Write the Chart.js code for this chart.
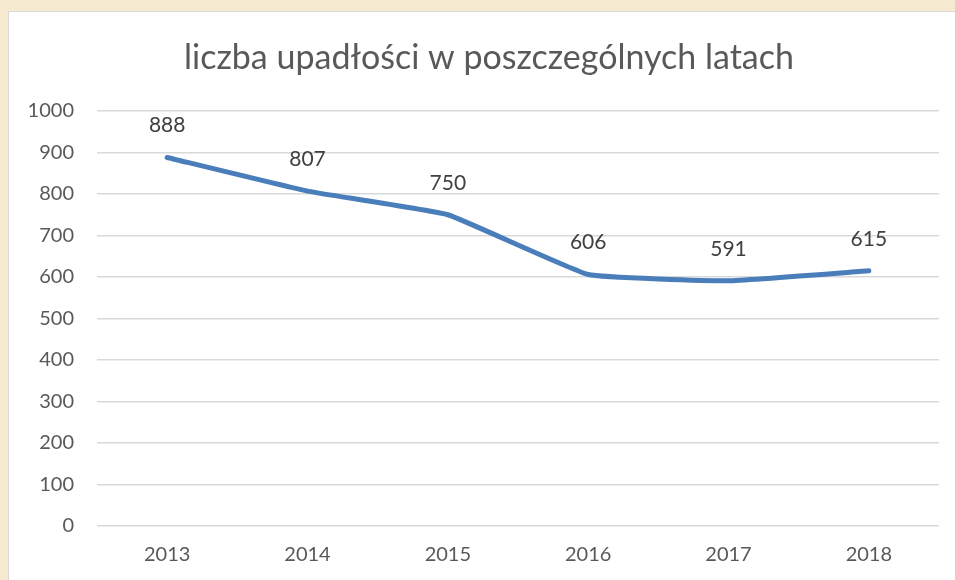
<!DOCTYPE html>
<html>
<head>
<meta charset="utf-8">
<script src="https://cdn.jsdelivr.net/npm/chart.js@4"></script>
<style>
    html, body { margin: 0; padding: 0; background: #f6ebd0; }
    #panel {
        position: absolute; left: 8px; top: 11px;
        width: 946px; height: 568px;
        background: #ffffff; border: 1px solid #d9d9d9; border-right: none; border-bottom: none;
    }
    #panel canvas { display: block; }
</style>
</head>
<body>
<div id="panel"><canvas id="lineChart" width="946" height="568"></canvas></div>
<script>
// chart data
const years = ['2013', '2014', '2015', '2016', '2017', '2018'];
const bankruptcies = [888, 807, 750, 606, 591, 615];
const chartTitle = 'liczba upadłości w poszczególnych latach';

const textColor = '#595959';
const fontFamily = 'Lato, "Open Sans", sans-serif';

// value labels above each point
const valueLabels = {
    id: 'valueLabels',
    afterDatasetsDraw(chart) {
        const ctx = chart.ctx;
        const meta = chart.getDatasetMeta(0);
        ctx.save();
        ctx.fillStyle = '#404040';
        ctx.font = '21px ' + fontFamily;
        ctx.textAlign = 'center';
        ctx.textBaseline = 'middle';
        meta.data.forEach((pt, i) => {
            ctx.fillText(String(bankruptcies[i]), pt.x, pt.y - 32);
        });
        ctx.restore();
    }
};

// title drawn by hand: centred a bit right of the canvas middle like the original
const chartTitleDraw = {
    id: 'chartTitleDraw',
    afterDraw(chart) {
        const ctx = chart.ctx;
        ctx.save();
        ctx.fillStyle = textColor;
        ctx.font = '34px ' + fontFamily;
        ctx.textAlign = 'center';
        ctx.textBaseline = 'middle';
        ctx.fillText(chartTitle, 480, 46);
        ctx.restore();
    }
};

function initializeChart() {
    const ctx = document.getElementById('lineChart').getContext('2d');
    new Chart(ctx, {
        type: 'line',
        data: {
            labels: years,
            datasets: [{
                data: bankruptcies,
                borderColor: '#4a7ebb',
                borderWidth: 5,
                borderCapStyle: 'round',
                borderJoinStyle: 'round',
                pointRadius: 0,
                tension: 0.1,
                fill: false
            }]
        },
        options: {
            responsive: false,
            animation: false,
            layout: { padding: { left: 0, right: 16, top: 99, bottom: 0 } },
            plugins: {
                legend: { display: false },
                tooltip: { enabled: false },
                title: { display: false }
            },
            scales: {
                x: {
                    offset: true,
                    grid: { display: false, drawTicks: false },
                    border: { display: false },
                    ticks: { color: textColor, font: { family: fontFamily, size: 20 }, padding: 17 },
                    afterFit: scale => { scale.height = 54; }
                },
                y: {
                    min: 0,
                    max: 1000,
                    ticks: {
                        stepSize: 100,
                        color: textColor,
                        font: { family: fontFamily, size: 20 },
                        padding: 23,
                        callback: v => String(v)
                    },
                    grid: { color: '#d9d9d9', lineWidth: 1.5, drawTicks: false },
                    border: { display: false },
                    afterFit: scale => { scale.width = 88; }
                }
            }
        },
        plugins: [valueLabels, chartTitleDraw]
    });
}

document.addEventListener('DOMContentLoaded', initializeChart);
</script>
</body>
</html>
